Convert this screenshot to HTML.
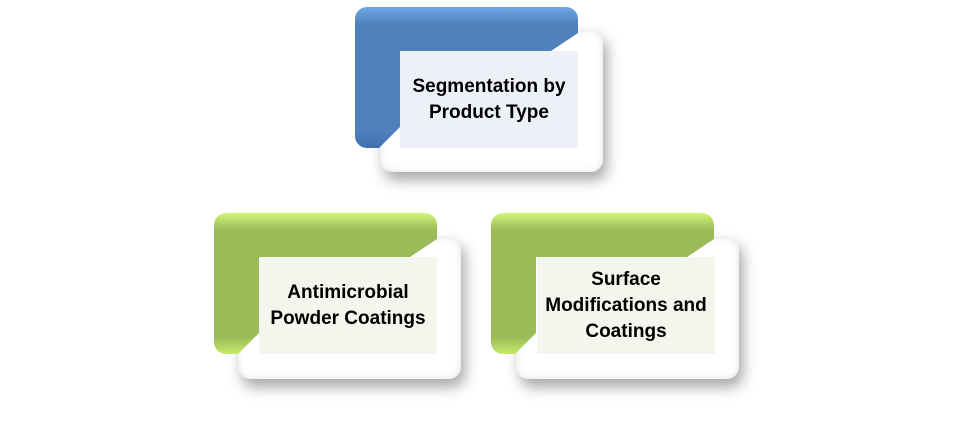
<!DOCTYPE html>
<html><head><style>
body{margin:0;width:958px;height:439px;background:#fff;position:relative;overflow:hidden;font-family:"Liberation Sans",sans-serif}
.c{position:absolute;width:223px;height:141px;border-radius:12px;clip-path:polygon(0 0,223px 0,223px 26px,196px 44px,45px 44px,45px 120px,24px 141px,0 141px)}
.w{position:absolute;width:223px;height:142px;border-radius:12px;background:#fff;box-shadow:4px 8px 14px rgba(0,0,0,.35), inset 0 0 8px rgba(0,0,0,.12)}
.p{position:absolute;width:178px;height:97px;display:flex;align-items:center;justify-content:center;text-align:center;font-weight:bold;font-size:19px;line-height:26px;color:#000}
.b{background:linear-gradient(#6fa8e8,#4f81bd 12%,#4f81bd 88%,#3f6fae);}
.g{background:linear-gradient(#d4f57a,#9bbb59 12%,#9bbb59 88%,#c6ea68);}
</style></head><body>
<div class="w" style="left:380px;top:30px"></div>
<div class="c b" style="left:355px;top:7px"></div>
<div class="p" style="left:400px;top:51px;background:#edf1f7">Segmentation by<br>Product Type</div>

<div class="w" style="left:238px;top:237px"></div>
<div class="c g" style="left:214px;top:213px"></div>
<div class="p" style="left:259px;top:257px;background:#f2f6ec">Antimicrobial<br>Powder Coatings</div>

<div class="w" style="left:516px;top:237px"></div>
<div class="c g" style="left:491px;top:213px"></div>
<div class="p" style="left:537px;top:257px;background:#f2f6ec">Surface<br>Modifications and<br>Coatings</div>
</body></html>
